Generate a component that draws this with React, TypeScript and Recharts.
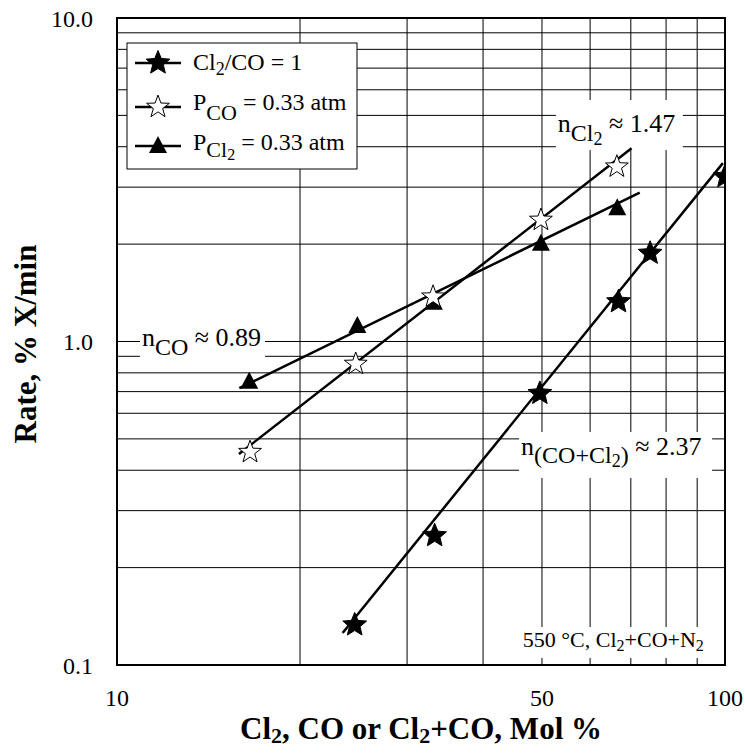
import React from 'react';
import {
  ScatterChart,
  Scatter,
  XAxis,
  YAxis,
  CartesianGrid,
  ReferenceDot,
  Customized,
} from 'recharts';

// Cl2/CO = 1 (filled stars)
const cl2coX = [24.6, 33.3, 49.6, 66.8, 75.3, 100];
const cl2coY = [0.133, 0.251, 0.691, 1.327, 1.874, 3.23];
const cl2coFitX = [23.5, 99.2];
const cl2coFitY = [0.1256, 3.56];

// P_CO = 0.33 atm (open stars)
const pcoX = [16.55, 24.7, 33.1, 49.8, 66.4];
const pcoY = [0.455, 0.852, 1.375, 2.375, 3.47];
const pcoFitX = [15.87, 70.2];
const pcoFitY = [0.449, 3.956];

// P_Cl2 = 0.33 atm (filled triangles)
const pcl2X = [16.5, 24.85, 33.2, 49.8, 66.5];
const pcl2Y = [0.756, 1.125, 1.327, 2.02, 2.6];
const pcl2FitX = [15.89, 72.4];
const pcl2FitY = [0.717, 2.884];

const xTicks = [10, 20, 30, 40, 50, 60, 70, 80, 90, 100];
const xTickLabels: Record<string, string> = { '10': '10', '50': '50', '100': '100' };
const yTicks = [0.1, 0.2, 0.3, 0.4, 0.5, 0.6, 0.7, 0.8, 0.9, 1, 2, 3, 4, 5, 6, 7, 8, 9, 10];
const yTickLabels: Record<string, string> = { '0.1': '0.1', '1': '1.0', '10': '10.0' };

const toPoints = (xs: number[], ys: number[]) => xs.map((x, i) => ({ x, y: ys[i] }));

const FONT = '"Liberation Serif", "Times New Roman", serif';

function starPath(cx: number, cy: number, R: number, r: number) {
  let d = '';
  for (let i = 0; i < 10; i++) {
    const rad = i % 2 === 0 ? R : r;
    const a = -Math.PI / 2 + (i * Math.PI) / 5;
    d += (i === 0 ? 'M' : 'L') + (cx + rad * Math.cos(a)).toFixed(2) + ',' + (cy + rad * Math.sin(a)).toFixed(2);
  }
  return d + 'Z';
}

const FilledStar = (props: any) => (
  <path d={starPath(props.cx, props.cy, 12.5, 5.6)} fill="#000" stroke="#000" strokeWidth={1} />
);
const OpenStar = (props: any) => (
  <path d={starPath(props.cx, props.cy, 12, 4.9)} fill="#fff" stroke="#000" strokeWidth={1} />
);
const Triangle = (props: any) => (
  <path
    d={`M${props.cx},${props.cy - 9}L${props.cx + 9},${props.cy + 8}L${props.cx - 9},${props.cy + 8}Z`}
    fill="#000"
  />
);
const NoShape = () => <g />;

const annotation = (w: number, h: number, top: number, children: React.ReactNode) => (props: any) => (
  <g>
    <rect x={props.cx - 2} y={props.cy - top} width={w} height={h} fill="#fff" />
    <text x={props.cx} y={props.cy} fontFamily={FONT} fill="#000">
      {children}
    </text>
  </g>
);

const Overlay = () => (
  <g fontFamily={FONT} fill="#000">
    <rect x={117} y={18} width={608} height={647} fill="none" stroke="#000" strokeWidth={2} />
    {/* legend */}
    <rect x={127} y={43} width={230} height={126} fill="#fff" stroke="#000" strokeWidth={1} />
    <line x1={135} x2={181} y1={63} y2={63} stroke="#000" strokeWidth={2.5} />
    <FilledStar cx={158} cy={63} />
    <text x={193} y={70} fontSize={24}>
      Cl<tspan fontSize={18} dy={5}>2</tspan>
      <tspan dy={-5}>/CO = 1</tspan>
    </text>
    <line x1={135} x2={181} y1={107} y2={107} stroke="#000" strokeWidth={2.5} />
    <OpenStar cx={158} cy={107} />
    <text x={193} y={110} fontSize={24}>
      P<tspan fontSize={22} dy={10}>CO</tspan>
      <tspan dy={-10}> = 0.33 atm</tspan>
    </text>
    <line x1={135} x2={181} y1={146} y2={146} stroke="#000" strokeWidth={2.5} />
    <Triangle cx={158} cy={145} />
    <text x={193} y={150} fontSize={24}>
      P<tspan fontSize={22} dy={7}>Cl</tspan>
      <tspan fontSize={16} dy={3}>2</tspan>
      <tspan dy={-10}> = 0.33 atm</tspan>
    </text>
    {/* axis titles */}
    <text x={421} y={739} fontSize={31} fontWeight="bold" textAnchor="middle">
      Cl<tspan fontSize={22} dy={4}>2</tspan>
      <tspan dy={-4}>, CO or Cl</tspan>
      <tspan fontSize={22} dy={4}>2</tspan>
      <tspan dy={-4}>+CO, Mol %</tspan>
    </text>
    <text transform="translate(36,344) rotate(-90)" fontSize={31} fontWeight="bold" textAnchor="middle">
      Rate, % X/min
    </text>
  </g>
);

export default function App() {
  return (
    <div style={{ position: 'absolute', left: 0, top: 0, background: '#fff' }}>
      <ScatterChart
        width={743}
        height={752}
        margin={{ top: 18, right: 18, bottom: 0, left: 0 }}
      >
        <CartesianGrid stroke="#000" strokeWidth={1} fill="#fff" />
        <XAxis
          dataKey="x"
          type="number"
          scale="log"
          domain={[10, 100]}
          allowDataOverflow
          ticks={xTicks}
          tickFormatter={(v) => xTickLabels[String(v)] ?? ''}
          tick={{ fontSize: 24, fill: '#000', fontFamily: FONT }}
          tickLine={false}
          axisLine={false}
          tickSize={0}
          tickMargin={24}
          height={87}
        />
        <YAxis
          dataKey="y"
          type="number"
          scale="log"
          domain={[0.1, 10]}
          allowDataOverflow
          ticks={yTicks}
          tickFormatter={(v) => yTickLabels[String(v)] ?? ''}
          tick={{ fontSize: 24, fill: '#000', fontFamily: FONT }}
          tickLine={false}
          axisLine={false}
          tickSize={0}
          tickMargin={24}
          width={117}
        />
        <ReferenceDot
          x={53.1}
          y={4.44}
          r={0}
          shape={annotation(127, 50, 32, [
            <tspan key="a" fontSize={26}>n</tspan>,
            <tspan key="b" fontSize={24} dy={9}>Cl</tspan>,
            <tspan key="c" fontSize={18} dy={4}>2</tspan>,
            <tspan key="d" fontSize={26} dy={-13}> ≈ 1.47</tspan>,
          ])}
        />
        <ReferenceDot
          x={10.99}
          y={0.968}
          r={0}
          shape={annotation(125, 36, 22, [
            <tspan key="a" fontSize={26}>n</tspan>,
            <tspan key="b" fontSize={24} dy={9}>CO</tspan>,
            <tspan key="d" fontSize={26} dy={-9}> ≈ 0.89</tspan>,
          ])}
        />
        <ReferenceDot
          x={46.2}
          y={0.446}
          r={0}
          shape={annotation(193, 46, 23, [
            <tspan key="a" fontSize={26}>n</tspan>,
            <tspan key="b" fontSize={24} dy={8}>(CO+Cl</tspan>,
            <tspan key="c" fontSize={18} dy={4}>2</tspan>,
            <tspan key="e" fontSize={24} dy={-4}>)</tspan>,
            <tspan key="d" fontSize={26} dy={-8}> ≈ 2.37</tspan>,
          ])}
        />
        <ReferenceDot
          x={46.5}
          y={0.1137}
          r={0}
          shape={annotation(198, 31, 20, [
            <tspan key="a" fontSize={22}>550 °C, Cl</tspan>,
            <tspan key="b" fontSize={16} dy={4}>2</tspan>,
            <tspan key="c" fontSize={22} dy={-4}>+CO+N</tspan>,
            <tspan key="e" fontSize={16} dy={4}>2</tspan>,
          ])}
        />
        <Scatter
          data={toPoints(cl2coFitX, cl2coFitY)}
          line={{ stroke: '#000', strokeWidth: 2.5 }}
          shape={NoShape}
          isAnimationActive={false}
        />
        <Scatter
          data={toPoints(pcoFitX, pcoFitY)}
          line={{ stroke: '#000', strokeWidth: 2.5 }}
          shape={NoShape}
          isAnimationActive={false}
        />
        <Scatter
          data={toPoints(pcl2FitX, pcl2FitY)}
          line={{ stroke: '#000', strokeWidth: 2.5 }}
          shape={NoShape}
          isAnimationActive={false}
        />
        <Scatter data={toPoints(pcl2X, pcl2Y)} shape={Triangle} isAnimationActive={false} />
        <Scatter data={toPoints(pcoX, pcoY)} shape={OpenStar} isAnimationActive={false} />
        <Scatter data={toPoints(cl2coX, cl2coY)} shape={FilledStar} isAnimationActive={false} />
        <Customized component={Overlay} />
      </ScatterChart>
    </div>
  );
}
